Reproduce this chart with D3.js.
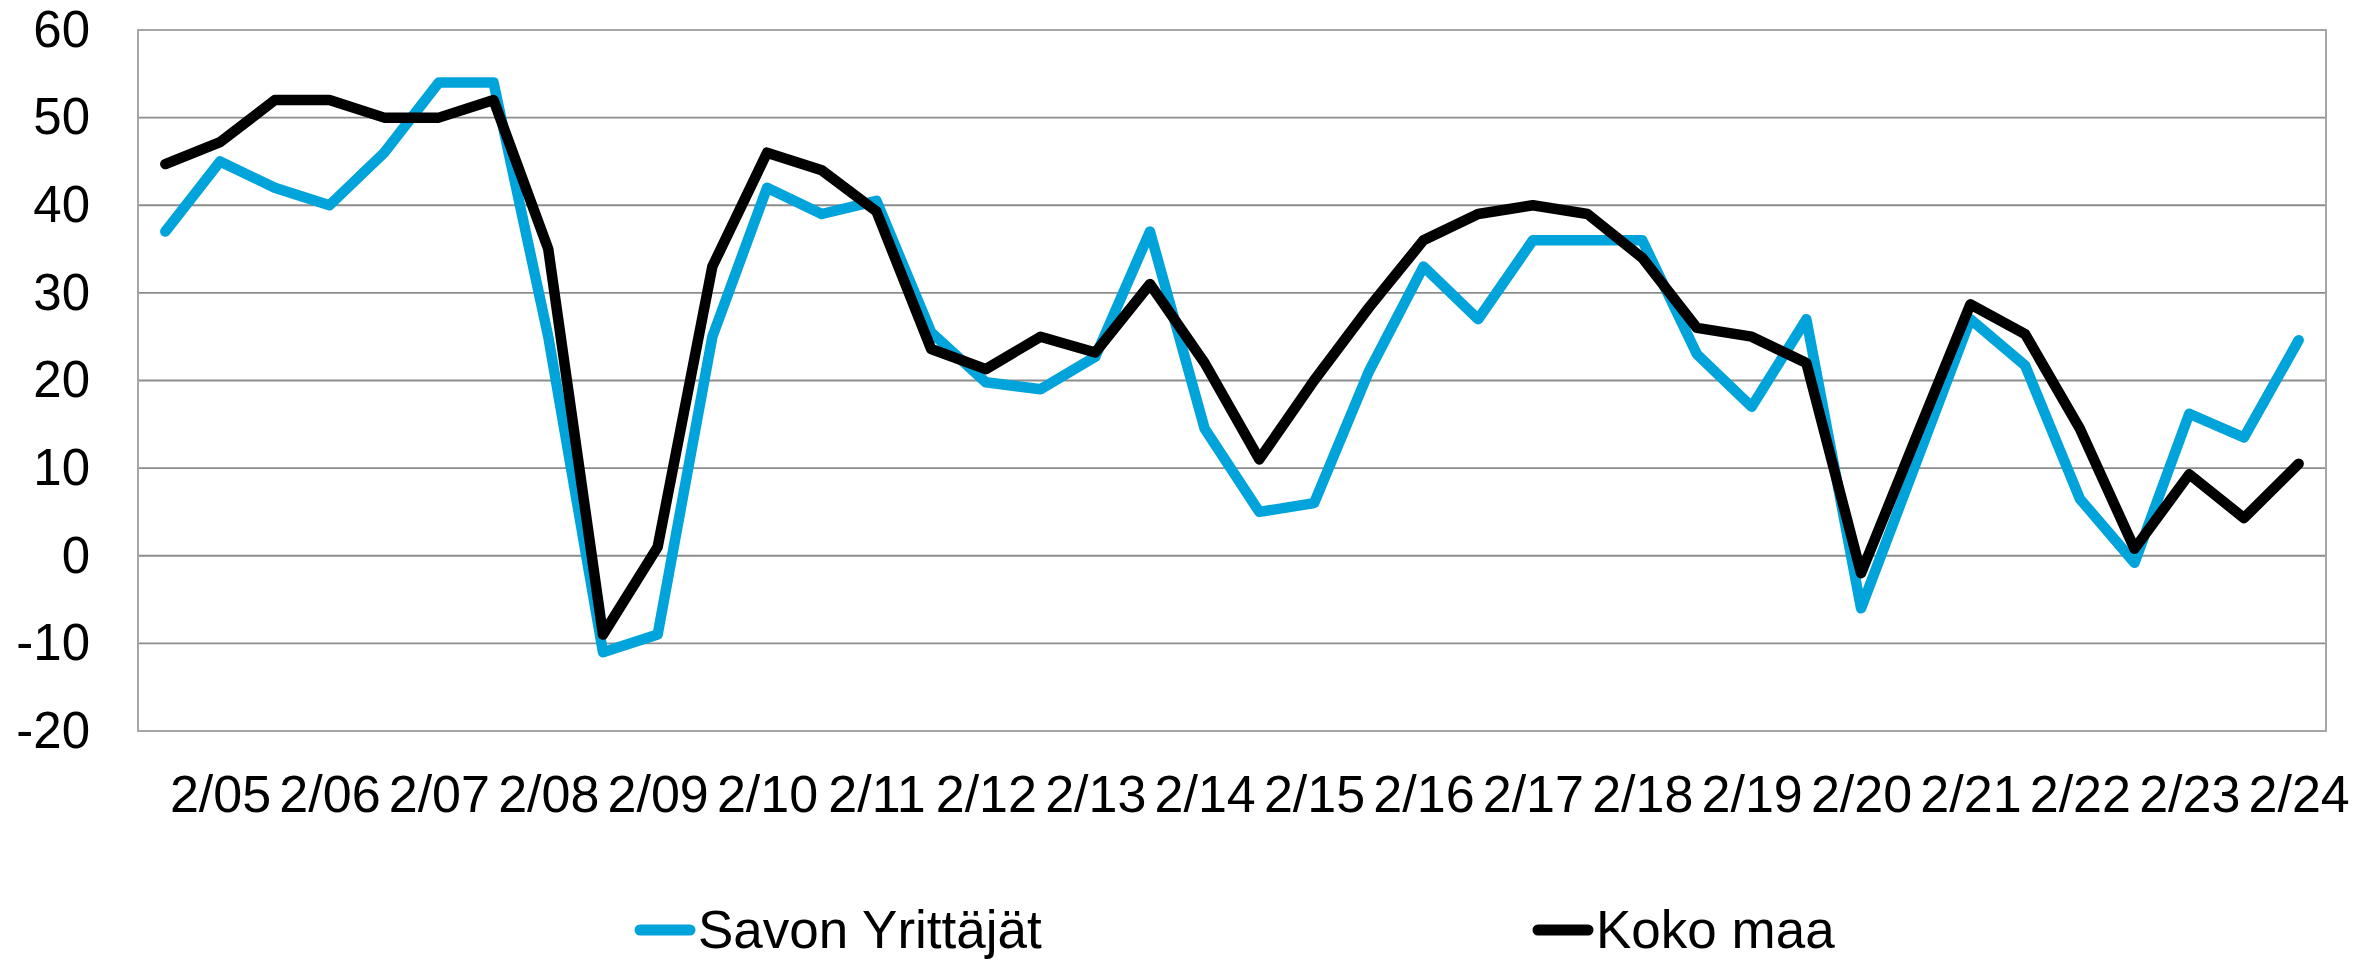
<!DOCTYPE html>
<html>
<head>
<meta charset="utf-8">
<script src="https://cdn.jsdelivr.net/npm/d3@7"></script>
<style>
  html, body { margin: 0; padding: 0; background: #ffffff; }
  svg { display: block; font-family: Arial, "Liberation Sans", sans-serif; }
</style>
</head>
<body>
<svg id="chart" width="2376" height="960"></svg>
<script>
const categories = [
  "8/04","2/05","8/05","2/06","8/06","2/07","8/07","2/08","8/08","2/09",
  "8/09","2/10","8/10","2/11","8/11","2/12","8/12","2/13","8/13","2/14",
  "8/14","2/15","8/15","2/16","8/16","2/17","8/17","2/18","8/18","2/19",
  "8/19","2/20","8/20","2/21","8/21","2/22","8/22","2/23","8/23","2/24"
];
const savonYrittajat = [
  37, 45, 42, 40, 46, 54, 54, 25, -11, -9,
  25, 42, 39, 40.5, 25.5, 19.8, 19, 22.7, 37, 14.5,
  5, 6, 21, 33, 27, 36, 36, 36, 23, 17,
  27, -6, 10.5, 27, 21.7, 6.5, -0.8, 16.2, 13.5, 24.6
];
const kokoMaa = [
  44.7, 47.2, 52, 52, 50, 50, 52, 35, -9, 1,
  33, 46, 44, 39.3, 23.6, 21.3, 25, 23.2, 31, 22,
  11, 20, 28.3, 36, 39, 40, 39, 34, 26, 25,
  22, -2, 13.4, 28.7, 25.3, 14.5, 0.8, 9.3, 4.3, 10.5
];
const yTicks = [-20, -10, 0, 10, 20, 30, 40, 50, 60];
const seriesNames = ["Savon Yrittäjät", "Koko maa"];
const seriesColors = ["#00a3da", "#000000"];

(function () {
const svg = d3.select("#chart");
const mLeft = 138, mRight = 2326, mTop = 30, mBottom = 731;

const x = d3.scalePoint().domain(categories).range([mLeft, mRight]).padding(0.5);
const y = d3.scaleLinear().domain([-20, 60]).range([mBottom, mTop]);

// gridlines
svg.append("g").selectAll("line").data(yTicks).join("line")
  .attr("x1", mLeft).attr("x2", mRight)
  .attr("y1", d => y(d)).attr("y2", d => y(d))
  .attr("stroke", "#8c8c8c").attr("stroke-width", 1.8);

// plot border
svg.append("rect")
  .attr("x", mLeft).attr("y", mTop)
  .attr("width", mRight - mLeft).attr("height", mBottom - mTop)
  .attr("fill", "none").attr("stroke", "#a6a6a6").attr("stroke-width", 2);

// y axis
const yAxis = svg.append("g").attr("transform", `translate(${mLeft},0)`)
  .call(d3.axisLeft(y).tickValues(yTicks).tickFormat(d => String(d)).tickSize(0).tickPadding(48));
yAxis.select(".domain").remove();
yAxis.selectAll("text")
  .attr("font-size", 51).attr("fill", "#000")
  .attr("font-family", "Arial, 'Liberation Sans', sans-serif");

// x axis
const xAxis = svg.append("g").attr("transform", `translate(0,${mBottom})`)
  .call(d3.axisBottom(x).tickValues(categories.filter(c => c.startsWith("2/"))).tickSize(0));
xAxis.select(".domain").remove();
xAxis.selectAll("text")
  .attr("y", 81).attr("dy", null)
  .attr("font-size", 52).attr("fill", "#000")
  .attr("font-family", "Arial, 'Liberation Sans', sans-serif");

// lines
const line = d3.line().x((d, i) => x(categories[i])).y(d => y(d));
[savonYrittajat, kokoMaa].forEach((vals, k) => {
  svg.append("path").datum(vals)
    .attr("d", line)
    .attr("fill", "none")
    .attr("stroke", seriesColors[k])
    .attr("stroke-width", 10.5)
    .attr("stroke-linejoin", "round")
    .attr("stroke-linecap", "round");
});

// legend
const legendX = [635, 1533];
const legendY = 930;
seriesNames.forEach((name, k) => {
  const g = svg.append("g");
  g.append("line")
    .attr("x1", legendX[k] + 5).attr("x2", legendX[k] + 55)
    .attr("y1", legendY).attr("y2", legendY)
    .attr("stroke", seriesColors[k]).attr("stroke-width", 11)
    .attr("stroke-linecap", "round");
  g.append("text")
    .attr("x", legendX[k] + 63).attr("y", legendY + 18)
    .attr("font-size", 53).attr("fill", "#000")
    .text(name);
});
})();
</script>
</body>
</html>
